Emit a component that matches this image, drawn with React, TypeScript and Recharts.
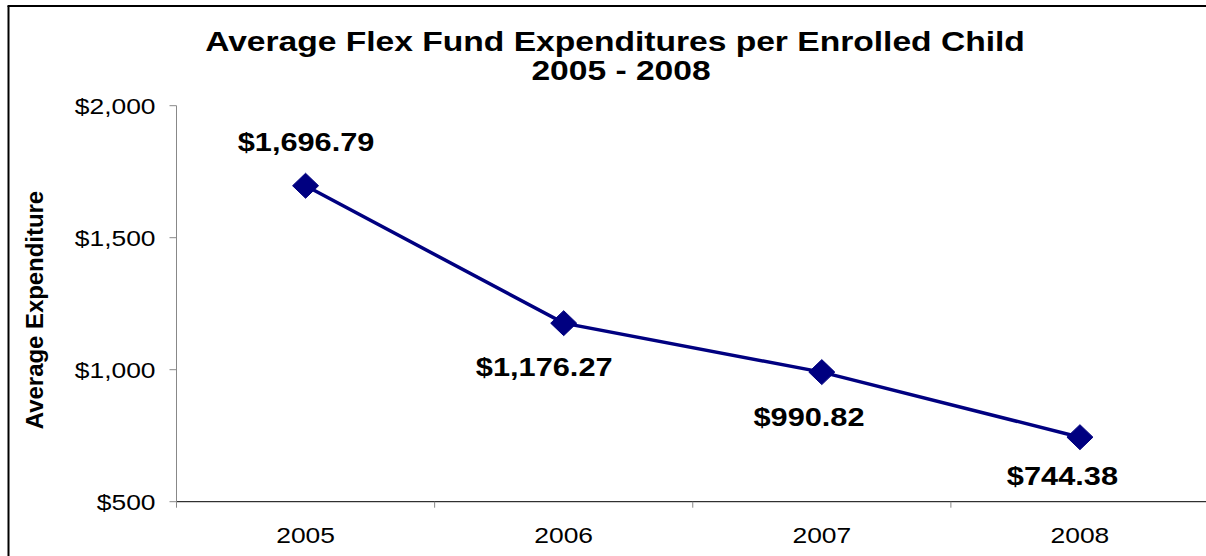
import React from 'react';
import { LineChart, Line, XAxis, YAxis, LabelList } from 'recharts';

const years = ['2005', '2006', '2007', '2008'];
const avgExpenditure = [1696.79, 1176.27, 990.82, 744.38];
const yTicks = [500, 1000, 1500, 2000];
const titleLine1 = 'Average Flex Fund Expenditures per Enrolled Child';
const titleLine2 = '2005 - 2008';
const yAxisTitle = 'Average Expenditure';

const data = years.map((year, i) => ({ year, value: avgExpenditure[i] }));

const FONT = "'Liberation Sans', Arial, Helvetica, sans-serif";
const NAVY = '#000080';
const X_TICK_MARGIN = 41;

const fmtTick = (v: number) => '$' + v.toLocaleString('en-US');
const fmtValue = (v: number) =>
  '$' + v.toLocaleString('en-US', { minimumFractionDigits: 2, maximumFractionDigits: 2 });

function SText(props: any) {
  const { x, y, anchor = 'middle', size, weight = 'normal', sx = 1, rotate, children } = props;
  const rot = rotate ? ` rotate(${rotate})` : '';
  return (
    <text
      transform={`translate(${x},${y})${rot} scale(${sx},1)`}
      textAnchor={anchor}
      fontSize={size}
      fontWeight={weight}
      fontFamily={FONT}
      fill="#000"
    >
      {children}
    </text>
  );
}

function YTick(props: any) {
  const { x, y, payload } = props;
  return (
    <SText x={x} y={y + 7.9} anchor="end" size={22} sx={1.2}>
      {fmtTick(payload.value)}
    </SText>
  );
}

function XTick(props: any) {
  const { x, y, payload } = props;
  const half = payload.offset || 129;
  const axisY = y - X_TICK_MARGIN;
  return (
    <g>
      <line x1={x - half} x2={x - half} y1={axisY} y2={axisY + 6} stroke="#888" strokeWidth={1} />
      <SText x={x} y={y} size={22} sx={1.2}>
        {payload.value}
      </SText>
    </g>
  );
}

function Diamond(props: any) {
  const { cx, cy } = props;
  if (cx == null || cy == null) return null;
  const w = 13;
  const h = 12.5;
  return (
    <polygon
      points={`${cx},${cy - h} ${cx + w},${cy} ${cx},${cy + h} ${cx - w},${cy}`}
      fill={NAVY}
      stroke={NAVY}
      strokeWidth={1}
    />
  );
}

function ValueLabel(props: any) {
  const { x, y, value, index } = props;
  // first label sits above its point, the rest below and slightly to the left
  const place = [
    { dx: 0.5, dy: -35 },
    { dx: -19.5, dy: 53 },
    { dx: -12.8, dy: 54 },
    { dx: -17.5, dy: 48 },
  ][index] || { dx: 0, dy: 50 };
  return (
    <SText x={x + place.dx} y={y + place.dy} size={25} weight="bold" sx={1.23}>
      {fmtValue(value)}
    </SText>
  );
}

export default function App() {
  return (
    <div
      style={{
        position: 'absolute',
        left: 0,
        top: 0,
        width: 1206,
        height: 556,
        overflow: 'hidden',
        background: '#fff',
      }}
    >
      <LineChart
        width={1206}
        height={556}
        data={data}
        margin={{ top: 105.7, right: -3, bottom: 24.3, left: 0 }}
        style={{ position: 'absolute', left: 0, top: 0 }}
      >
        <XAxis
          dataKey="year"
          scale="band"
          height={30}
          interval={0}
          tickSize={0}
          tickMargin={X_TICK_MARGIN}
          tickLine={false}
          axisLine={{ stroke: '#000', strokeWidth: 1 }}
          tick={(p: any) => <XTick {...p} />}
        />
        <YAxis
          width={176.5}
          domain={[500, 2000]}
          ticks={yTicks}
          interval={0}
          tickSize={7}
          tickMargin={14}
          tickLine={{ stroke: '#888', strokeWidth: 1 }}
          axisLine={{ stroke: '#888', strokeWidth: 1 }}
          tick={(p: any) => <YTick {...p} />}
        />
        <Line
          type="linear"
          dataKey="value"
          stroke={NAVY}
          strokeWidth={3.5}
          dot={(p: any) => <Diamond key={p.index} {...p} />}
          activeDot={false}
          isAnimationActive={false}
        >
          <LabelList dataKey="value" content={(p: any) => <ValueLabel {...p} />} />
        </Line>
      </LineChart>
      <svg
        width={1206}
        height={556}
        style={{ position: 'absolute', left: 0, top: 0, pointerEvents: 'none' }}
      >
        <rect x={1190} y={8} width={16} height={491} fill="#fff" />
        <line x1={8.5} y1={6} x2={8.5} y2={556} stroke="#000" strokeWidth={2} />
        <line x1={7.5} y1={6} x2={1206} y2={6} stroke="#000" strokeWidth={2} />
        <SText x={615} y={51} size={28} weight="bold" sx={1.2}>
          {titleLine1}
        </SText>
        <SText x={621} y={80} size={28} weight="bold" sx={1.2}>
          {titleLine2}
        </SText>
        <SText x={43} y={310} size={23} weight="bold" sx={1.04} rotate={-90}>
          {yAxisTitle}
        </SText>
      </svg>
    </div>
  );
}
